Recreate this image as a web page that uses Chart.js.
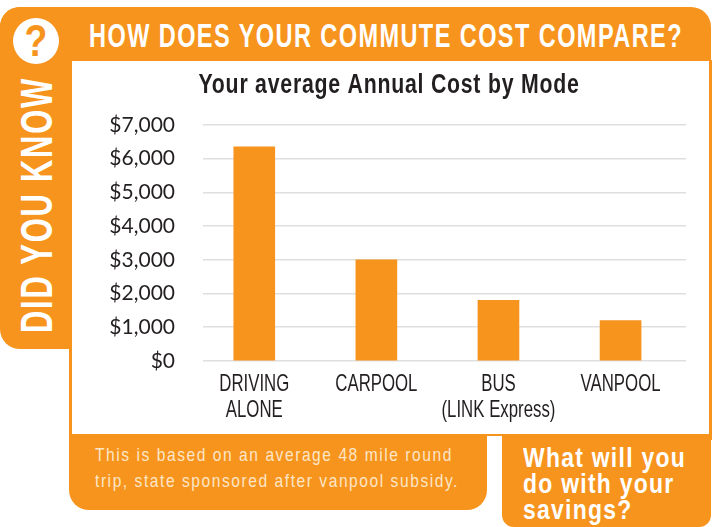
<!DOCTYPE html>
<html><head><meta charset="utf-8">
<style>
html,body{margin:0;padding:0;background:#fff;width:712px;height:527px;overflow:hidden}
#s{position:relative;width:712px;height:527px;font-family:"Liberation Sans",sans-serif}
.o{position:absolute;background:#f7941d}
.t{position:absolute;color:#fff;white-space:nowrap;transform-origin:0 50%}
#c{position:absolute;left:72px;top:61px;width:637px;height:373px}
</style></head><body><div id="s">
<div class="o" style="left:0;top:7px;width:711px;height:54px;border-radius:20px 20px 0 0"></div>
<div class="o" style="left:0;top:7px;width:72px;height:342px;border-radius:20px 0 0 20px"></div>
<div class="o" style="left:69px;top:60px;width:3px;height:380px"></div>
<div class="o" style="left:709px;top:60px;width:2.5px;height:380px"></div>
<div class="o" style="left:69px;top:434px;width:642px;height:2px"></div>
<div class="o" style="left:69px;top:434px;width:418px;height:76px;border-radius:0 0 20px 20px"></div>
<div class="o" style="left:502px;top:434px;width:209px;height:93px;border-radius:0 0 12px 12px"></div>
<div class="t fit" data-w="594" style="left:89px;top:18px;font-size:33px;font-weight:700;letter-spacing:2px;line-height:36px">HOW DOES YOUR COMMUTE COST COMPARE?</div>
<div style="position:absolute;left:13px;top:18px;width:46px;height:46px;border-radius:50%;background:#fff"></div>
<div class="t" style="left:13px;top:18px;width:46px;height:46px;color:#f7941d;font:700 44px/46px 'Liberation Sans',sans-serif;text-align:center;transform:scaleX(.85);transform-origin:50% 50%">?</div>
<div class="t" id="dyk" data-w="256" style="left:36.5px;top:205px;font-size:45px;font-weight:700;letter-spacing:2.5px;line-height:46px">DID YOU KNOW</div>
<div class="t fit" data-w="364" style="left:95px;top:441.5px;font-size:19px;letter-spacing:1.9px;line-height:26px;color:#fde6c8">This is based on an average 48 mile round<br>trip, state sponsored after vanpool subsidy.</div>
<div class="t fit" data-w="163" style="left:523px;top:444.5px;font-size:27px;font-weight:700;letter-spacing:1.5px;line-height:26px">What will you<br>do with your<br>savings?</div>
<canvas id="c" width="637" height="373"></canvas>
</div>
<script src="https://cdn.jsdelivr.net/npm/chart.js@4"></script>
<script>
const categories=[["DRIVING","ALONE"],"CARPOOL",["BUS","(LINK Express)"],"VANPOOL"];
const costs=[6350,3000,1800,1200];
const yTicks=[0,1000,2000,3000,4000,5000,6000,7000];
const titleText="Your average Annual Cost by Mode";
const orange="#f7941d",ink="#231f20";

document.querySelectorAll(".fit").forEach(e=>{
  const s=+e.dataset.w/e.getBoundingClientRect().width;
  e.style.transform="scaleX("+s+")";
});
const d=document.getElementById("dyk");
const dw=d.getBoundingClientRect().width;
d.style.transformOrigin="50% 50%";
d.style.transform="translate(-50%,-50%) rotate(-90deg) scaleX("+(+d.dataset.w/dw)+")";

const canvas=document.getElementById("c");
const ctx=canvas.getContext("2d");
const rawFill=ctx.fillText.bind(ctx);
ctx.fillText=function(t,x,y){
  if(!ctx.font.includes("Liberation")){rawFill(t,x,y);return;}
  const bold=ctx.font.includes("bold")||ctx.font.includes("700");
  ctx.save();ctx.translate(x,y);ctx.scale(bold?0.76:0.7,1);
  ctx.letterSpacing=bold?"1px":"0px";
  rawFill(t,0,0);ctx.restore();
};
new Chart(canvas,{
 type:"bar",
 data:{datasets:[{data:costs.map((v,i)=>({x:i,y:v})),backgroundColor:orange,barThickness:41}]},
 options:{responsive:false,animation:false,devicePixelRatio:1,
  layout:{padding:{left:20,right:23}},
  plugins:{legend:{display:false},tooltip:{enabled:false},
   title:{display:true,text:titleText,color:ink,font:{family:"'Liberation Sans',sans-serif",size:28,weight:"700"},padding:{top:7,bottom:23.4}}},
  scales:{
   x:{type:"linear",offset:false,bounds:"data",min:-0.42,max:3.536,grid:{display:false},border:{display:false},
    afterBuildTicks(a){a.ticks=categories.map((_,i)=>({value:i}));},
    afterFit(a){a.height=73;},
    ticks:{autoSkip:false,maxRotation:0,padding:3,color:ink,font:{family:"'Liberation Sans',sans-serif",size:24,lineHeight:1.06},
     callback:v=>categories[v]}},
   y:{min:0,max:7000,grid:{color:"#dfdfdf",lineWidth:1.6,drawTicks:false},border:{display:false},
    afterBuildTicks(a){a.ticks=yTicks.map(v=>({value:v}));},
    afterFit(a){a.width=111;},
    ticks:{padding:28,color:ink,font:{family:"Lato,sans-serif",size:21},
     callback:v=>"$"+v.toLocaleString("en-US")}}
  }}
});
</script></body></html>
